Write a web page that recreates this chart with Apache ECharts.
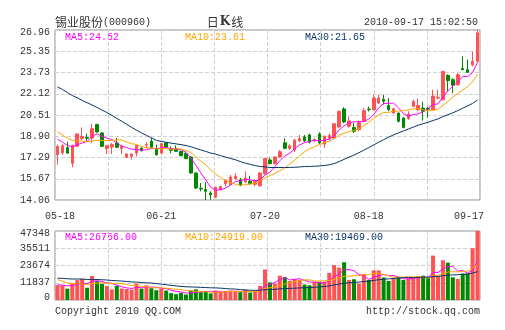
<!DOCTYPE html>
<html>
<head>
<meta charset="utf-8">
<script src="https://cdn.jsdelivr.net/npm/echarts@6.0.0/dist/echarts.min.js"></script>
<style>
  html, body { margin: 0; padding: 0; background: #fff; }
  #chart { width: 505px; height: 330px; }
</style>
</head>
<body>
<div id="chart"></div>
<script>
// Trading sessions shown on the chart (2010)
const dates = ['05-18','05-19','05-20','05-21','05-24','05-25','05-26','05-27','05-28','05-31',
  '06-01','06-02','06-03','06-04','06-07','06-08','06-09','06-10','06-11','06-17','06-18',
  '06-21','06-22','06-23','06-24','06-25','06-28','06-29','06-30',
  '07-01','07-02','07-05','07-06','07-07','07-08','07-09','07-12','07-13','07-14','07-15','07-16',
  '07-19','07-20','07-21','07-22','07-23','07-26','07-27','07-28','07-29','07-30',
  '08-02','08-03','08-04','08-05','08-06','08-09','08-10','08-11','08-12','08-13',
  '08-16','08-17','08-18','08-19','08-20','08-23','08-24','08-25','08-26','08-27','08-30','08-31',
  '09-01','09-02','09-03','09-06','09-07','09-08','09-09','09-10','09-13','09-14','09-15','09-16','09-17'];

const opens = [17.50,17.64,18.03,16.84,18.13,18.72,18.80,18.77,19.78,19.15,
  17.96,18.08,18.39,17.96,17.30,17.37,17.63,18.00,18.22,18.51,
  17.96,17.63,18.39,17.96,17.96,17.75,17.58,17.32,16.11,14.95,
  14.85,14.59,14.26,14.85,15.30,15.23,15.68,15.60,15.43,15.48,
  15.25,15.15,16.05,17.10,16.82,17.32,18.40,17.98,17.86,18.55,
  18.85,19.00,18.55,19.07,18.30,18.75,18.77,19.60,20.97,19.65,
  19.57,19.40,20.03,20.96,20.91,21.42,21.70,21.22,20.66,20.66,
  20.28,20.23,21.17,20.91,21.04,21.00,20.91,21.80,21.67,23.52,
  23.19,22.81,24.05,23.95,24.33,24.58];

const closes = [18.13,18.18,17.62,18.20,19.07,18.89,18.75,19.47,19.22,18.13,
  18.18,18.28,18.06,18.11,17.55,17.55,18.20,17.80,18.27,18.06,
  17.50,18.34,18.08,17.83,17.75,17.42,17.20,16.11,14.97,14.90,
  14.72,14.46,15.02,15.07,15.55,15.81,15.86,15.22,15.73,15.30,
  15.50,16.10,17.20,16.82,17.32,17.72,17.98,18.18,18.60,18.72,
  18.55,18.45,18.65,18.40,18.90,18.95,19.85,20.78,19.98,20.06,
  19.27,19.93,20.84,20.92,21.80,21.80,21.55,20.91,20.99,20.03,
  19.57,20.59,21.55,21.24,20.79,20.95,21.95,21.85,23.82,23.12,
  22.76,23.57,23.95,23.75,24.58,26.75];

const lows = [16.74,17.50,17.55,16.54,18.10,18.60,18.50,18.39,19.18,18.08,
  17.55,17.55,18.00,17.55,17.25,17.12,17.37,17.75,18.00,18.00,
  17.42,17.50,18.00,17.62,17.70,17.38,17.15,16.05,14.90,14.72,
  14.06,14.09,14.20,14.80,15.10,15.20,15.60,15.10,15.35,15.22,
  15.10,15.05,16.00,16.75,16.78,17.28,17.90,17.85,17.70,18.45,
  18.45,18.35,18.45,18.30,18.00,18.60,18.70,19.50,19.90,19.55,
  19.15,19.27,20.00,20.78,20.85,21.35,21.30,20.80,20.60,19.95,
  19.50,20.15,21.10,20.80,20.08,20.30,20.85,21.70,21.60,22.30,
  22.18,22.70,23.90,23.70,24.20,24.50];

const highs = [18.26,18.30,18.49,18.26,19.12,19.57,19.10,19.85,19.85,19.22,
  18.23,18.39,18.77,18.26,17.62,17.60,18.25,18.06,18.46,18.77,
  18.26,18.39,18.46,18.13,18.20,17.80,17.75,17.38,16.15,15.35,
  15.43,14.72,15.07,15.15,15.60,15.95,16.10,15.73,16.24,15.90,
  15.60,16.20,17.25,17.30,17.38,17.85,18.74,18.30,18.70,19.00,
  19.00,19.10,18.75,19.20,18.95,19.10,19.90,20.85,21.10,20.40,
  19.90,20.10,21.04,21.15,22.05,22.05,22.05,21.80,21.05,20.70,
  20.35,20.80,21.67,21.75,21.50,21.15,22.43,22.43,23.85,23.60,
  23.30,23.70,24.96,24.71,25.34,26.96];

const volumes = [10260,9940,7780,11560,13610,14580,8420,16520,12960,11120,
  9610,7240,9610,7880,7560,7130,11340,7780,10040,8100,
  6700,7560,6480,4750,4000,4970,3780,6480,7340,5400,
  5940,4540,6480,5620,5940,6480,5620,5400,7020,5180,
  5940,9720,20950,12070,11320,16680,15700,13020,14250,13760,
  10590,10110,12540,12540,12540,18630,23965,22270,25908,13753,
  14239,11313,17887,13753,20327,20327,15459,13019,14973,15459,
  13753,14973,15696,16182,16667,14957,30445,16482,27296,25620,
  15517,14502,18210,18210,35560,47348];

// The 29 sessions before 05-18; they only feed the moving averages
const priorCloses = [24.1,24.6,24.9,24.3,24.7,24.2,24.5,24.8,24.1,23.8,
  24.6,25.0,24.7,24.3,24.9,24.5,24.1,23.8,23.6,23.4,
  20.6,20.1,19.8,19.45,19.1,19.3,18.85,18.7,18.37];
const priorVolumes = [14200,16800,15900,13700,17400,15100,14600,16300,15800,14900,
  16600,15200,14400,17100,15600,14800,16200,15300,14700,15400,
  21000,18500,16800,15200,16000,11800,9900,10400,10140];

// Axis tick labels
const priceTicks = ['14.06','15.67','17.29','18.90','20.51','22.12','23.73','25.35','26.96'];
const volumeTicks = ['0','11837','23674','35511','47348'];
const dateTicks = ['05-18','06-21','07-20','08-18','09-17'];

const RED = '#FF5252';
const GREEN = '#008800';
const C_MA5 = '#FF00FF';
const C_MA10 = '#FFA500';
const C_MA30 = '#0B3566';
const MONO = '"Liberation Mono", "DejaVu Sans Mono", monospace';
const CJK = '"Noto Sans CJK SC", sans-serif';

function movingAverage(prior, values, n) {
  const all = prior.concat(values);
  return values.map((_, i) => {
    const end = prior.length + i;
    let s = 0;
    for (let k = end - n + 1; k <= end; k++) s += all[k];
    return s / n;
  });
}

const ma5 = movingAverage(priorCloses, closes, 5);
const ma10 = movingAverage(priorCloses, closes, 10);
const ma30 = movingAverage(priorCloses, closes, 30);
const vma5 = movingAverage(priorVolumes, volumes, 5);
const vma10 = movingAverage(priorVolumes, volumes, 10);
const vma30 = movingAverage(priorVolumes, volumes, 30);

const candles = dates.map((d, i) => [opens[i], closes[i], lows[i], highs[i]]);
const volBars = volumes.map((v, i) => ({
  value: v,
  itemStyle: { color: closes[i] >= opens[i] ? RED : GREEN }
}));

const priceMin = Math.min(...lows);
const priceMax = Math.max(...highs);
const priceStep = (priceMax - priceMin) / (priceTicks.length - 1);
const volMax = Math.max(...volumes);
const volStep = volMax / (volumeTicks.length - 1);
const last = dates.length - 1;

const gridLine = { show: true, lineStyle: { color: '#d0d0d0', width: 1, type: [4, 2] } };
const labelBase = { color: '#333', fontFamily: MONO, fontSize: 10 };

function lineSeries(data, color, xi, yi) {
  return {
    type: 'line', data, xAxisIndex: xi, yAxisIndex: yi,
    showSymbol: false, silent: true,
    lineStyle: { width: 1, color }, itemStyle: { color }
  };
}

function text(x, y, str, fill, align, extra) {
  return Object.assign({
    type: 'text', x, y, silent: true,
    style: Object.assign({
      text: str, fill, font: '10px ' + MONO,
      textAlign: align || 'left', textVerticalAlign: 'middle'
    }, extra || {})
  });
}

const chart = echarts.init(document.getElementById('chart'), null, { renderer: 'canvas' });

chart.setOption({
  animation: false,
  backgroundColor: '#fff',
  grid: [
    { left: 55, top: 30, width: 425, height: 170, show: true, borderColor: '#8c8c8c', borderWidth: 1, backgroundColor: '#fff' },
    { left: 55, top: 231, width: 425, height: 69, show: true, borderColor: '#8c8c8c', borderWidth: 1, backgroundColor: '#fff' }
  ],
  xAxis: [
    {
      type: 'category', gridIndex: 0, data: dates, boundaryGap: true,
      axisLine: { show: false }, axisTick: { show: false }, splitLine: { show: false },
      axisLabel: Object.assign({}, labelBase, {
        margin: 11,
        interval: (idx, val) => dateTicks.indexOf(val) >= 0,
        formatter: (val) => {
          if (val === dateTicks[0]) return '{first|' + val + '}';
          if (val === dateTicks[dateTicks.length - 1]) return '{last|' + val + '}';
          return val;
        },
        rich: {
          first: Object.assign({}, labelBase, { padding: [0, 0, 0, 5] }),
          last: Object.assign({}, labelBase, { padding: [0, 17, 0, 0] })
        }
      })
    },
    {
      type: 'category', gridIndex: 1, data: dates, boundaryGap: true,
      axisLine: { show: false }, axisTick: { show: false }, axisLabel: { show: false }, splitLine: { show: false }
    },
    {
      type: 'value', gridIndex: 0, position: 'top', min: 0, max: 8, interval: 1,
      axisLine: { show: false }, axisTick: { show: false }, axisLabel: { show: false }, splitLine: gridLine
    },
    {
      type: 'value', gridIndex: 1, position: 'top', min: 0, max: 8, interval: 1,
      axisLine: { show: false }, axisTick: { show: false }, axisLabel: { show: false }, splitLine: gridLine
    }
  ],
  yAxis: [
    {
      type: 'value', gridIndex: 0, min: priceMin, max: priceMax, interval: priceStep,
      axisLine: { show: false }, axisTick: { show: false }, splitLine: gridLine,
      axisLabel: Object.assign({}, labelBase, {
        margin: 5,
        formatter: (v) => {
          const k = Math.round((v - priceMin) / priceStep);
          return k === priceTicks.length - 1 ? '{top|' + priceTicks[k] + '}' : priceTicks[k];
        },
        rich: { top: Object.assign({}, labelBase, { padding: [5, 0, 0, 0] }) }
      })
    },
    {
      type: 'value', gridIndex: 1, min: 0, max: volMax, interval: volStep,
      axisLine: { show: false }, axisTick: { show: false }, splitLine: gridLine,
      axisLabel: Object.assign({}, labelBase, {
        margin: 5,
        formatter: (v) => {
          const k = Math.round(v / volStep);
          if (k === volumeTicks.length - 1) return '{top|' + volumeTicks[k] + '}';
          if (k === 0) return '{bottom|' + volumeTicks[k] + '}';
          return volumeTicks[k];
        },
        rich: {
          top: Object.assign({}, labelBase, { padding: [4, 0, 0, 0] }),
          bottom: Object.assign({}, labelBase, { padding: [0, 0, 6, 0] })
        }
      })
    }
  ],
  series: [
    {
      type: 'candlestick', xAxisIndex: 0, yAxisIndex: 0, data: candles,
      barWidth: 3, silent: true,
      itemStyle: { color: RED, color0: GREEN, borderColor: RED, borderColor0: GREEN, borderWidth: 1 }
    },
    lineSeries(ma5, C_MA5, 0, 0),
    lineSeries(ma10, C_MA10, 0, 0),
    lineSeries(ma30, C_MA30, 0, 0),
    { type: 'bar', xAxisIndex: 1, yAxisIndex: 1, data: volBars, barWidth: 4, silent: true },
    lineSeries(vma5, C_MA5, 1, 1),
    lineSeries(vma10, C_MA10, 1, 1),
    lineSeries(vma30, C_MA30, 1, 1)
  ],
  graphic: [
    {
      type: 'text', x: 55, y: 22, silent: true,
      style: {
        text: '{cn|锡业股份}{en|(000960)}', textVerticalAlign: 'middle',
        rich: {
          cn: { fontSize: 12, fontFamily: CJK, fill: '#333' },
          en: { fontSize: 10, fontFamily: MONO, fill: '#333' }
        }
      }
    },
    {
      type: 'text', x: 225, y: 22, silent: true,
      style: {
        text: '{cn|日}{k|K}{cn|线}', textAlign: 'center', textVerticalAlign: 'middle',
        rich: {
          cn: { fontSize: 12, fontFamily: CJK, fill: '#333' },
          k: { fontSize: 12, fontFamily: '"DejaVu Serif", serif', fontWeight: 'bold', fill: '#333', padding: [0, 1, 0, 1] }
        }
      }
    },
    text(478, 22, '2010-09-17 15:02:50', '#333', 'right'),
    text(65, 37, 'MA5:' + ma5[last].toFixed(2), C_MA5),
    text(185, 37, 'MA10:' + ma10[last].toFixed(2), C_MA10),
    text(305, 37, 'MA30:' + ma30[last].toFixed(2), C_MA30),
    text(65, 237, 'MA5:' + vma5[last].toFixed(2), C_MA5),
    text(185, 237, 'MA10:' + vma10[last].toFixed(2), C_MA10),
    text(305, 237, 'MA30:' + vma30[last].toFixed(2), C_MA30),
    text(55, 311, 'Copyright 2010 QQ.COM', '#333'),
    text(480, 311, 'http://stock.qq.com', '#333', 'right')
  ]
});
</script>
</body>
</html>
